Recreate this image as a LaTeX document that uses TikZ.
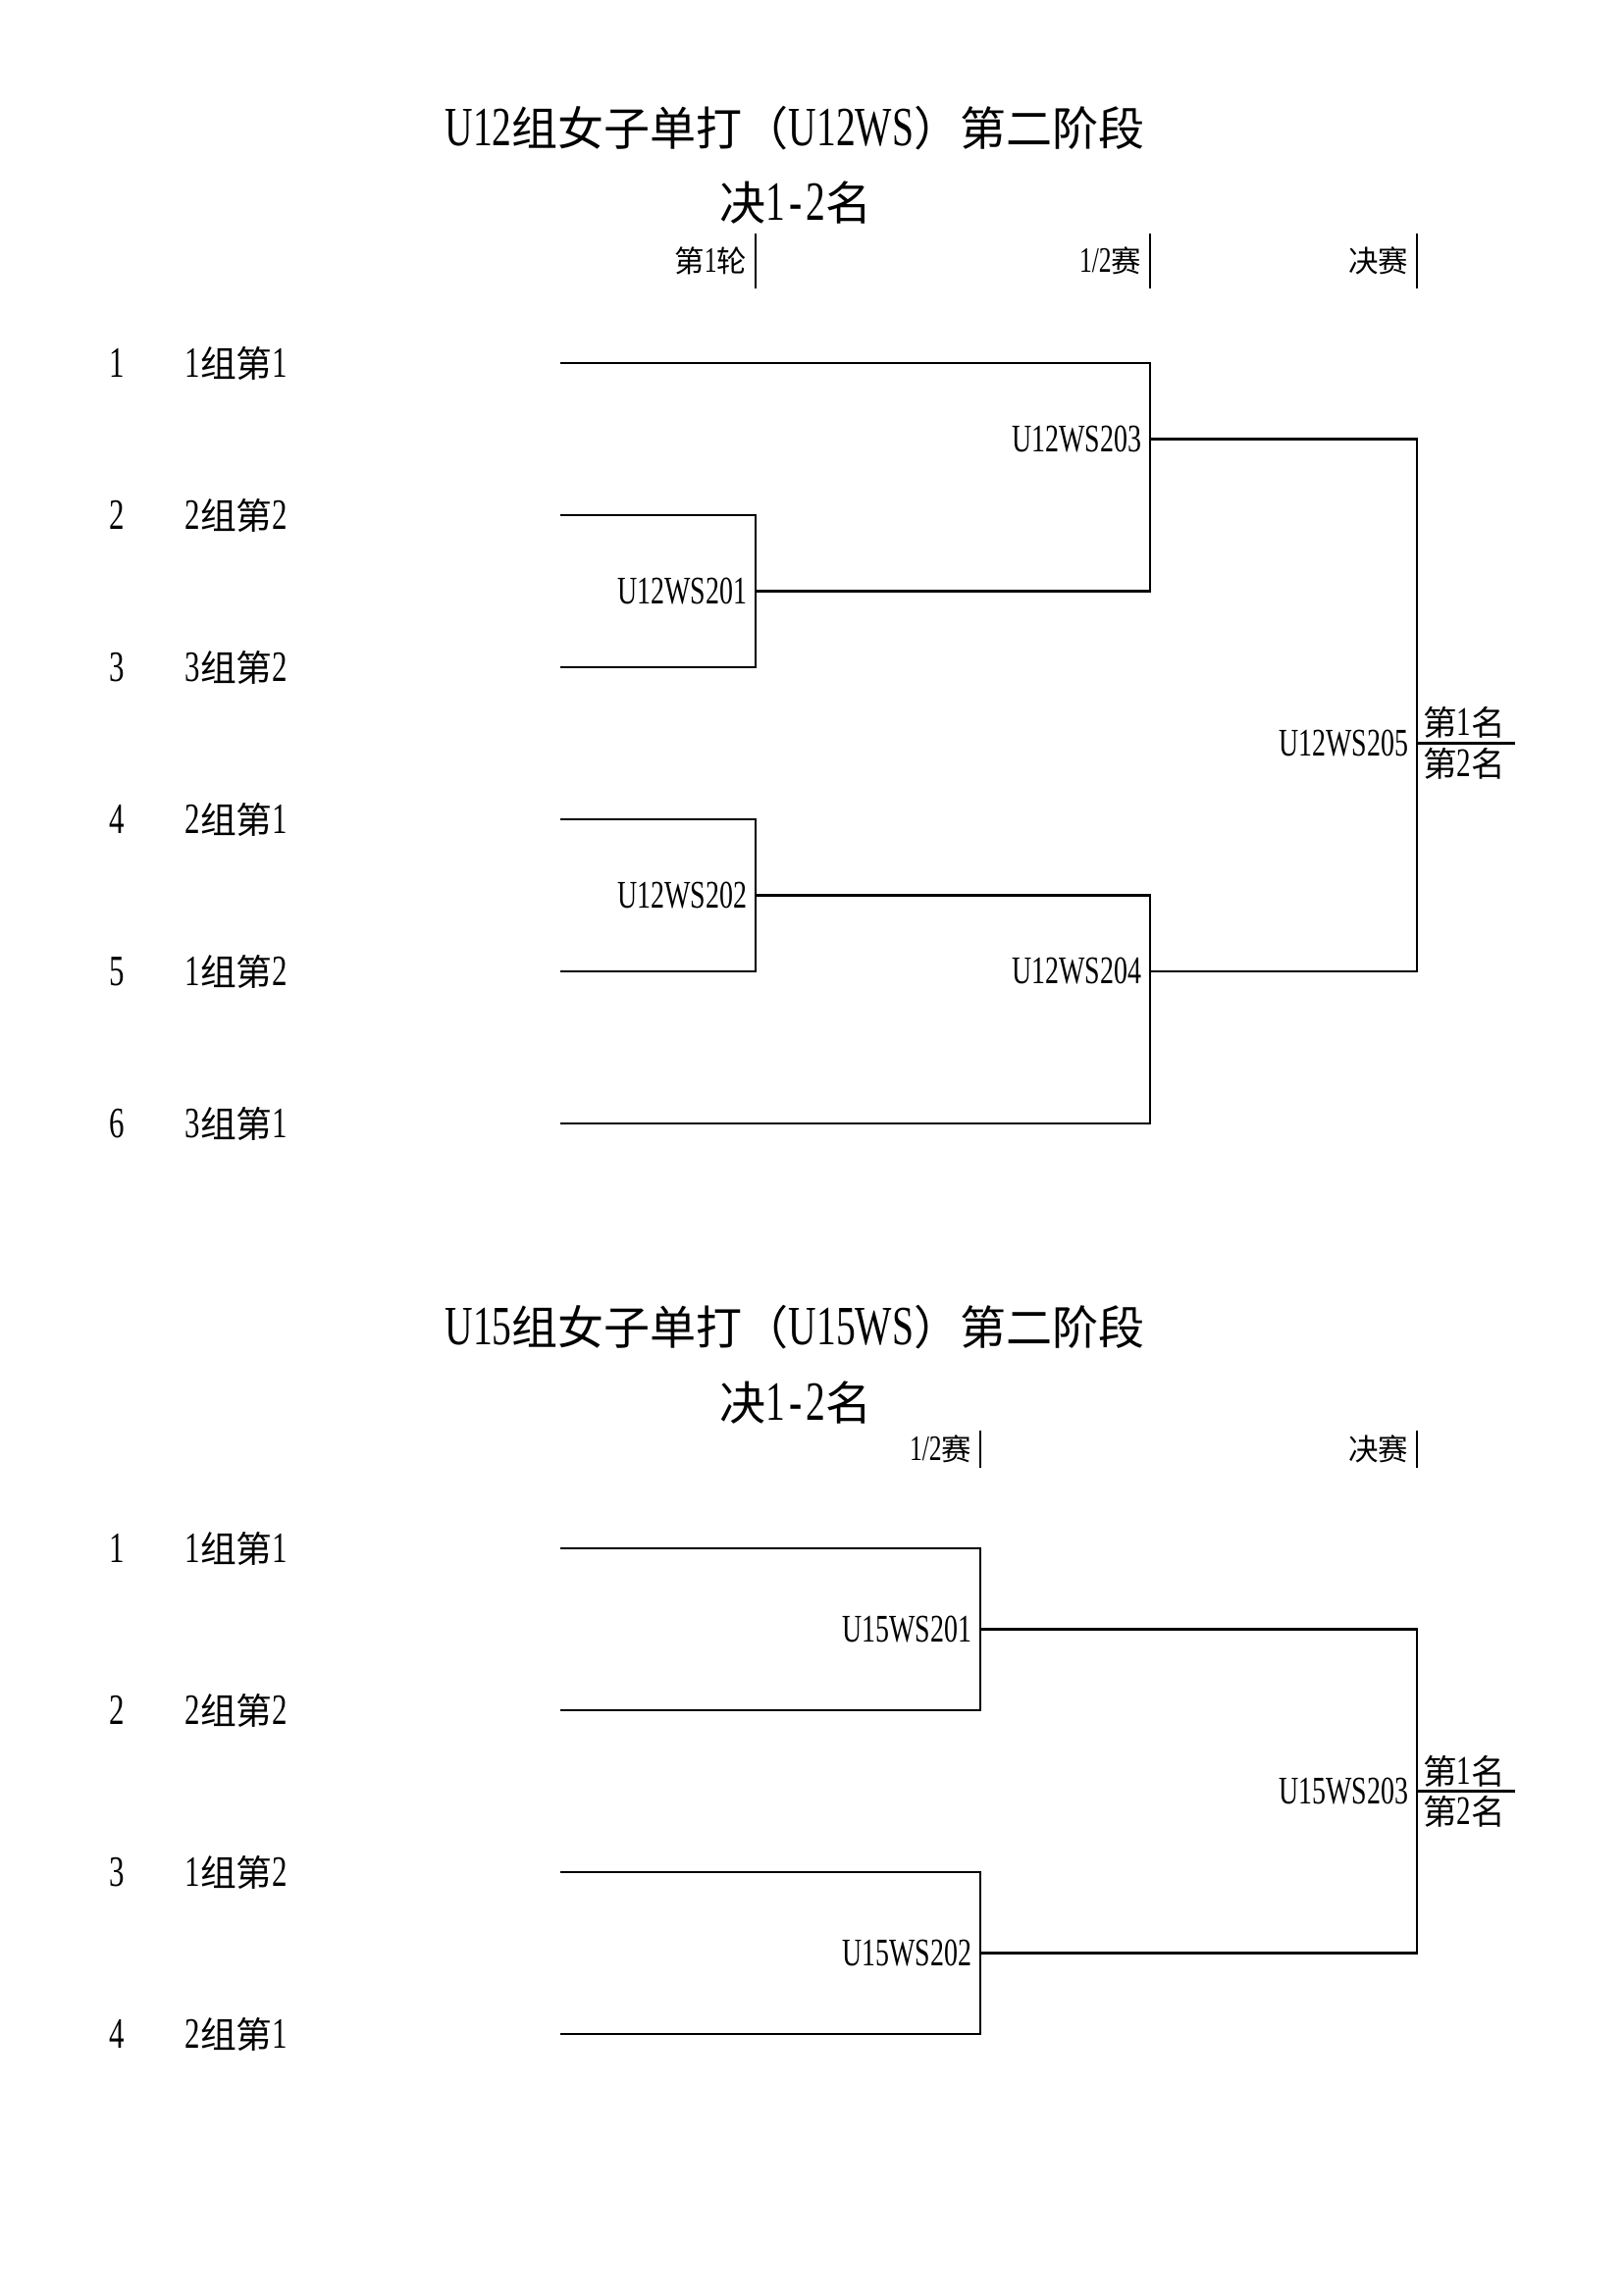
\documentclass[tikz,border=0pt]{standalone}
\usepackage{fontspec}
\setmainfont{Liberation Serif}[Scale=1.2, FakeStretch=0.7]
\newfontfamily\cjk{Noto Sans CJK SC}
\newcommand{\zh}[1]{{\cjk #1}}
\usetikzlibrary{positioning}

\begin{document}
\begin{tikzpicture}[
    x=0.127mm, y=-0.127mm,
    every node/.style={inner sep=0pt},
    heading/.style={font=\fontsize{17}{21}\selectfont},
    seed/.style={font=\fontsize{13.3}{15}\selectfont},
    entry/.style={anchor=west, font=\fontsize{13.3}{15}\selectfont},
    match/.style={font=\fontsize{12}{14}\selectfont},
    roundlabel/.style={font=\fontsize{11}{13}\selectfont},
    rank/.style={font=\fontsize{12.5}{14}\selectfont},
    bracket/.style={line width=0.8pt},
    tick/.style={line width=0.6pt}
]
\useasboundingbox (0,0) rectangle (1654,2339);

% U12WS
\node[heading] (title1) at (810,131) {U12\zh{组女子单打（}U12WS\zh{）第二阶段}};
\node[heading] (sub1) at (811,207) {\zh{决}1\kern1.5pt-\kern1.5pt2\zh{名}};

\coordinate (k1) at (770,266);
\coordinate (k2) at (1172,266);
\coordinate (k3) at (1444,266);
\draw[tick] ([yshift=10pt]k1) -- ([yshift=-10pt]k1);
\draw[tick] ([yshift=10pt]k2) -- ([yshift=-10pt]k2);
\draw[tick] ([yshift=10pt]k3) -- ([yshift=-10pt]k3);
\node[roundlabel, left=3pt of k1] (r1) {\zh{第}1\zh{轮}};
\node[roundlabel, left=3pt of k2] (r2) {1/2\zh{赛}};
\node[roundlabel, left=3pt of k3] (r3) {\zh{决赛}};

\node[seed] (a1) at (119,370) {1};
\node[seed] (a2) at (119,525) {2};
\node[seed] (a3) at (119,680) {3};
\node[seed] (a4) at (119,835) {4};
\node[seed] (a5) at (119,990) {5};
\node[seed] (a6) at (119,1145) {6};
\node[entry] (p1) at (188,370) {1\zh{组第}1};
\node[entry] (p2) at (188,525) {2\zh{组第}2};
\node[entry] (p3) at (188,680) {3\zh{组第}2};
\node[entry] (p4) at (188,835) {2\zh{组第}1};
\node[entry] (p5) at (188,990) {1\zh{组第}2};
\node[entry] (p6) at (188,1145) {3\zh{组第}1};

\coordinate (u1) at (571,370);
\coordinate (u2) at (571,525);
\coordinate (u3) at (571,680);
\coordinate (u4) at (571,835);
\coordinate (u5) at (571,990);
\coordinate (u6) at (571,1145);
\coordinate (m201) at (770,602.5);
\coordinate (m202) at (770,912.5);
\coordinate (m203) at (1172,447.5);
\coordinate (m204) at (1172,990);
\coordinate (m205) at (1444,757.5);
\coordinate (f205) at (1544,757.5);

\draw[bracket] (u2) -| (m201) |- (u3);
\draw[bracket] (u4) -| (m202) |- (u5);
\draw[bracket] (u1) -| (m203) |- (m201);
\draw[bracket] (m202) -| (m204) |- (u6);
\draw[bracket] (m203) -| (m205) |- (m204);
\draw[bracket] (m205) -- (f205);

\node[match, left=3pt of m201] (l201) {U12WS201};
\node[match, left=3pt of m202] (l202) {U12WS202};
\node[match, left=3pt of m203] (l203) {U12WS203};
\node[match, left=3pt of m204] (l204) {U12WS204};
\node[match, left=3pt of m205] (l205) {U12WS205};
\node[rank, above right=1.5pt and 2pt of m205] (w1) {\zh{第}1\zh{名}};
\node[rank, below right=1.5pt and 2pt of m205] (w2) {\zh{第}2\zh{名}};

% U15WS
\node[heading] (title2) at (810,1353) {U15\zh{组女子单打（}U15WS\zh{）第二阶段}};
\node[heading] (sub2) at (811,1430) {\zh{决}1\kern1.5pt-\kern1.5pt2\zh{名}};

\coordinate (k4) at (999,1477);
\coordinate (k5) at (1444,1477);
\draw[tick] ([yshift=6.8pt]k4) -- ([yshift=-6.8pt]k4);
\draw[tick] ([yshift=6.8pt]k5) -- ([yshift=-6.8pt]k5);
\node[roundlabel, left=3pt of k4] (r4) {1/2\zh{赛}};
\node[roundlabel, left=3pt of k5] (r5) {\zh{决赛}};

\node[seed] (b1) at (119,1578) {1};
\node[seed] (b2) at (119,1743) {2};
\node[seed] (b3) at (119,1908) {3};
\node[seed] (b4) at (119,2073) {4};
\node[entry] (q1) at (188,1578) {1\zh{组第}1};
\node[entry] (q2) at (188,1743) {2\zh{组第}2};
\node[entry] (q3) at (188,1908) {1\zh{组第}2};
\node[entry] (q4) at (188,2073) {2\zh{组第}1};

\coordinate (v1) at (571,1578);
\coordinate (v2) at (571,1743);
\coordinate (v3) at (571,1908);
\coordinate (v4) at (571,2073);
\coordinate (n201) at (999,1660.5);
\coordinate (n202) at (999,1990.5);
\coordinate (n203) at (1444,1825.5);
\coordinate (g203) at (1544,1825.5);

\draw[bracket] (v1) -| (n201) |- (v2);
\draw[bracket] (v3) -| (n202) |- (v4);
\draw[bracket] (n201) -| (n203) |- (n202);
\draw[bracket] (n203) -- (g203);

\node[match, left=3pt of n201] (l15a) {U15WS201};
\node[match, left=3pt of n202] (l15b) {U15WS202};
\node[match, left=3pt of n203] (l15c) {U15WS203};
\node[rank, above right=1.5pt and 2pt of n203] (w3) {\zh{第}1\zh{名}};
\node[rank, below right=1.5pt and 2pt of n203] (w4) {\zh{第}2\zh{名}};
\end{tikzpicture}
\end{document}
